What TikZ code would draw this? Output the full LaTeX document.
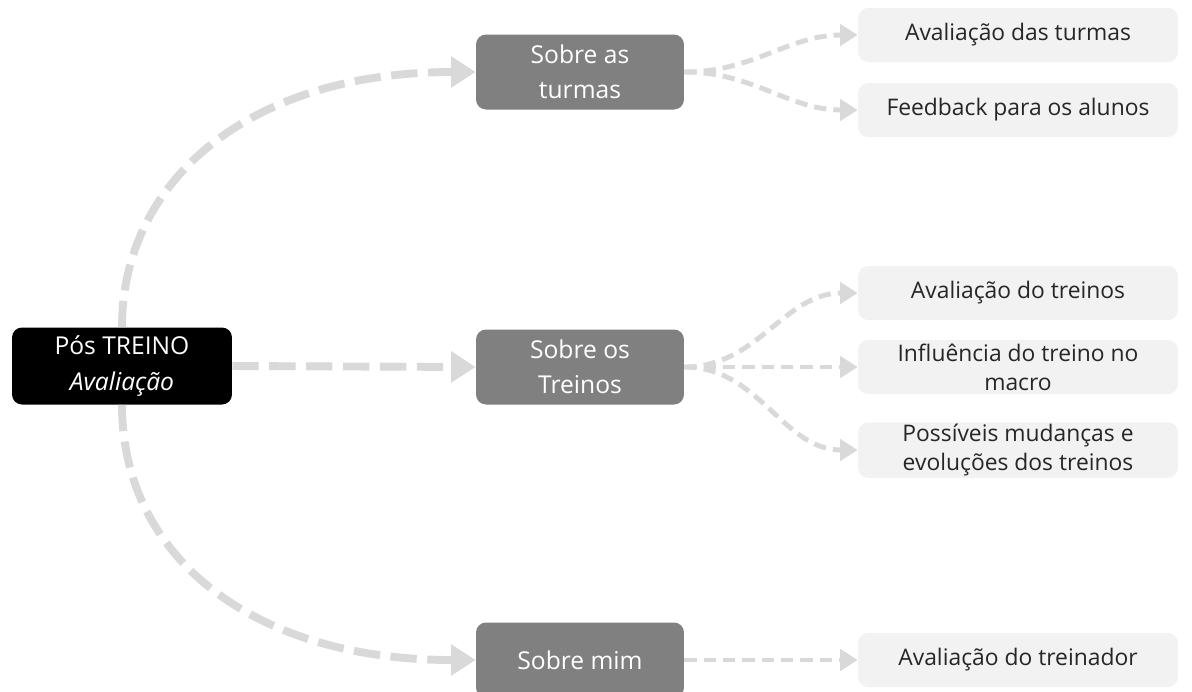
\documentclass[tikz,border=0pt]{standalone}
\usepackage{fontspec}
\setmainfont{Open Sans}
\usetikzlibrary{arrows.meta}

\definecolor{midgray}{HTML}{808080}
\definecolor{leafgray}{HTML}{F2F2F2}
\definecolor{linegray}{HTML}{D9D9D9}
\definecolor{leaftext}{HTML}{262626}

\tikzset{
  rootbox/.style={fill=black, text=white, rounded corners=0.2cm, align=center,
    minimum width=4.4cm, minimum height=1.54cm, font=\fontsize{14}{20}\selectfont},
  midbox/.style={fill=midgray, text=white, rounded corners=0.2cm, align=center,
    minimum width=4.16cm, minimum height=1.5cm, font=\fontsize{14}{20}\selectfont},
  leafbox/.style={fill=leafgray, text=leaftext, rounded corners=0.2cm, align=center,
    minimum width=6.4cm, minimum height=1.08cm, inner sep=1pt,
    font=\fontsize{13}{16.5}\selectfont},
  bigline/.style={draw=linegray, line width=4.5pt, dash pattern=on 15pt off 6pt,
    -{Triangle[length=14pt, width=17pt, fill=linegray]}},
  smallline/.style={draw=linegray, line width=2.8pt, dash pattern=on 7pt off 4pt,
    -{Triangle[length=10pt, width=12pt, fill=linegray]}},
}

\begin{document}
\begin{tikzpicture}[x=0.02cm, y=-0.02cm]
\useasboundingbox (0,0) rectangle (1192,691);

% root
\node[rootbox] (root) at (122,366) {Pós TREINO\\\textit{Avaliação}};

% second level
\node[midbox] (turmas) at (580,72) {Sobre as\\turmas};
\node[midbox] (treinos) at (580,367) {Sobre os\\Treinos};
\node[midbox] (mim) at (580,660) {Sobre mim};

% leaves
\node[leafbox] (avturmas) at (1018,35) {Avaliação das turmas};
\node[leafbox] (feedback) at (1018,110) {Feedback para os alunos};
\node[leafbox] (avtreinos) at (1018,293) {Avaliação do treinos};
\node[leafbox] (influencia) at (1018,367) {Influência do treino no\\macro};
\node[leafbox] (mudancas) at (1018,450) {Possíveis mudanças e\\evoluções dos treinos};
\node[leafbox] (avtreinador) at (1018,660) {Avaliação do treinador};

% root connectors
\draw[bigline] (root.north) .. controls (122,180) and (250,72) .. (turmas.west);
\draw[bigline] (root.east) -- (treinos.west);
\draw[bigline] (root.south) .. controls (122,555) and (250,660) .. (mim.west);

% leaf connectors
\draw[smallline] (turmas.east) to[out=0, in=180] (avturmas.west);
\draw[smallline] (turmas.east) to[out=0, in=180] (feedback.west);
\draw[smallline] (treinos.east) to[out=0, in=180] (avtreinos.west);
\draw[smallline] (treinos.east) -- (influencia.west);
\draw[smallline] (treinos.east) to[out=0, in=180] (mudancas.west);
\draw[smallline] (mim.east) -- (avtreinador.west);
\end{tikzpicture}
\end{document}
